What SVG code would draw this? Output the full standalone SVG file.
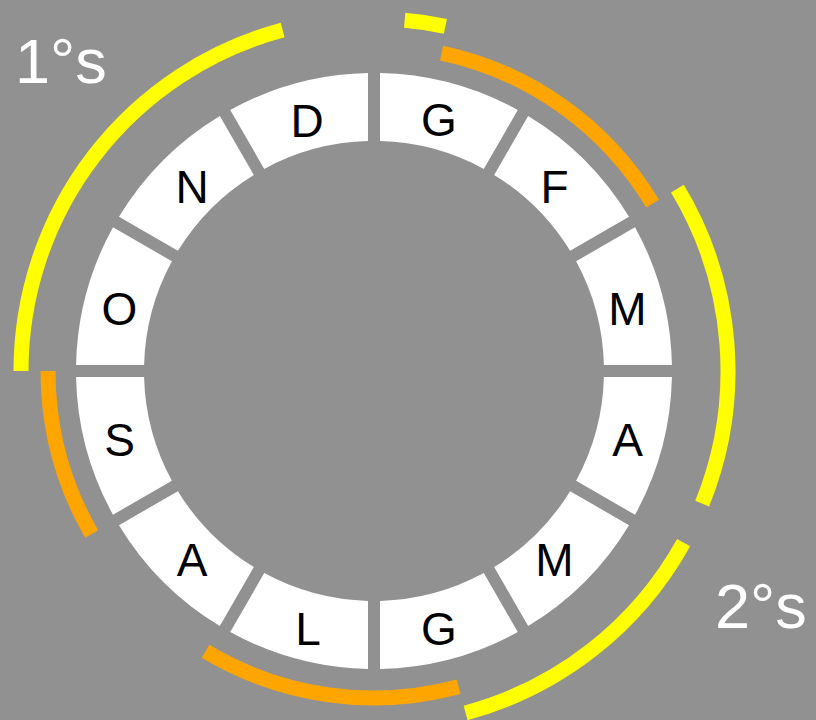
<svg xmlns="http://www.w3.org/2000/svg" xmlns:xlink="http://www.w3.org/1999/xlink" width="816" height="720" viewBox="0 0 816 720">
<style>
.seg{fill:#ffffff}
.lbl{font-family:"Liberation Sans",Arial,sans-serif;font-size:46px;fill:#000000;text-anchor:middle}
.big{font-family:"Liberation Sans",Arial,sans-serif;font-size:63px;fill:#ffffff}
.arc{fill:none;stroke-width:15;stroke-linecap:butt}
.y{stroke:#ffff00}
.o{stroke:#ffa500}
</style>
<defs>
<path id="sector" class="seg" d="M380,73.06 A298,298 0 0 1 517.77,109.98 L483.76,168.88 A230,230 0 0 0 380,141.08 Z"/>
</defs>
<rect width="816" height="720" fill="#919191"/>
<g id="seg-gen1"><use xlink:href="#sector" href="#sector"/><text class="lbl" x="439" y="136">G</text></g>
<g id="seg-feb"><use xlink:href="#sector" href="#sector" transform="rotate(30 374 371)"/><text class="lbl" x="554.5" y="203">F</text></g>
<g id="seg-mar"><use xlink:href="#sector" href="#sector" transform="rotate(60 374 371)"/><text class="lbl" x="627.5" y="325">M</text></g>
<g id="seg-apr"><use xlink:href="#sector" href="#sector" transform="rotate(90 374 371)"/><text class="lbl" x="627.5" y="455.5">A</text></g>
<g id="seg-mag"><use xlink:href="#sector" href="#sector" transform="rotate(120 374 371)"/><text class="lbl" x="554.5" y="576.2">M</text></g>
<g id="seg-giu"><use xlink:href="#sector" href="#sector" transform="rotate(150 374 371)"/><text class="lbl" x="439" y="645.3">G</text></g>
<g id="seg-lug"><use xlink:href="#sector" href="#sector" transform="rotate(180 374 371)"/><text class="lbl" x="308" y="645.3">L</text></g>
<g id="seg-ago"><use xlink:href="#sector" href="#sector" transform="rotate(210 374 371)"/><text class="lbl" x="192.2" y="576.2">A</text></g>
<g id="seg-set"><use xlink:href="#sector" href="#sector" transform="rotate(240 374 371)"/><text class="lbl" x="119.5" y="455.5">S</text></g>
<g id="seg-ott"><use xlink:href="#sector" href="#sector" transform="rotate(270 374 371)"/><text class="lbl" x="119.5" y="325">O</text></g>
<g id="seg-nov"><use xlink:href="#sector" href="#sector" transform="rotate(300 374 371)"/><text class="lbl" x="192" y="203">N</text></g>
<g id="seg-dic"><use xlink:href="#sector" href="#sector" transform="rotate(330 374 371)"/><text class="lbl" x="307" y="136.5">D</text></g>
<g id="arcs">
<path class="arc y" d="M21,371 A353,353 0 0 1 282.64,30.03"/>
<path class="arc y" d="M404.68,20.34 A352,352 0 0 1 445.38,26.31"/>
<path class="arc o" d="M441.57,53.10 A325,325 0 0 1 652.58,203.61"/>
<path class="arc y" d="M677.44,188.68 A354,354 0 0 1 702.22,503.61"/>
<path class="arc y" d="M683.62,542.62 A354,354 0 0 1 465.62,712.94"/>
<path class="arc o" d="M458.63,686.86 A327,327 0 0 1 205.58,651.29"/>
<path class="arc o" d="M91.68,534 A326,326 0 0 1 48,371"/>
</g>
<g id="label-1s"><text class="big" x="15" y="83">1°s</text></g>
<g id="label-2s"><text class="big" x="715" y="628">2°s</text></g>
</svg>
